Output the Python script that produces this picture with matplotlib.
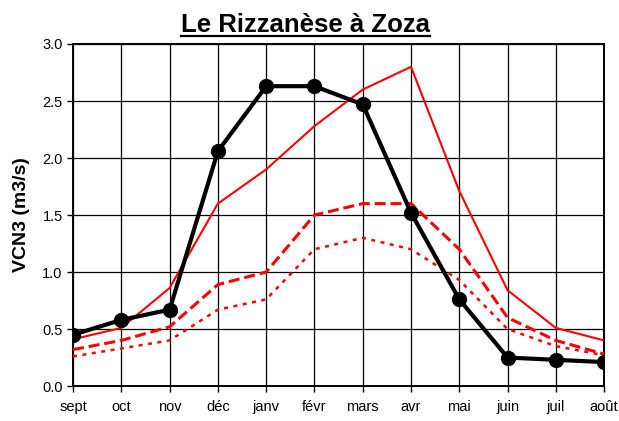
import matplotlib
matplotlib.use('Agg')
matplotlib.rc('font', family='Liberation Sans')
from matplotlib import pyplot as plt
from matplotlib.lines import Line2D

months = ['sept', 'oct', 'nov', 'déc', 'janv', 'févr', 'mars', 'avr', 'mai', 'juin', 'juil', 'août']
vcn3_obs = [0.45, 0.58, 0.67, 2.06, 2.63, 2.63, 2.47, 1.52, 0.76, 0.25, 0.23, 0.21]
vcn3_high = [0.41, 0.51, 0.86, 1.60, 1.90, 2.28, 2.60, 2.80, 1.71, 0.84, 0.51, 0.40]
vcn3_mid = [0.32, 0.40, 0.52, 0.89, 1.00, 1.50, 1.60, 1.60, 1.20, 0.60, 0.40, 0.28]
vcn3_low = [0.26, 0.33, 0.40, 0.67, 0.76, 1.20, 1.30, 1.20, 0.93, 0.50, 0.35, 0.27]
y_ticks = [0.0, 0.5, 1.0, 1.5, 2.0, 2.5, 3.0]

title = 'Le Rizzanèse à Zoza'
ylabel = 'VCN3 (m3/s)'

fig = plt.figure(figsize=(6.19, 4.21), dpi=100)
ax = fig.add_axes([0.118, 0.083, 0.858, 0.8125])

x = list(range(len(months)))
ax.plot(x, vcn3_high, color='red', linewidth=1.5, zorder=3)
ax.plot(x, vcn3_mid, color='red', linewidth=2.2, linestyle=(0, (3.6, 1.6)), zorder=3)
ax.plot(x, vcn3_low, color='red', linewidth=1.8, linestyle=(0, (1.6, 2.2)), zorder=3)
ax.plot(x, vcn3_obs, color='black', linewidth=3, marker='o', markersize=10, zorder=4)

ax.set_xlim(0, len(months) - 1)
ax.set_ylim(0, 3.0)
ax.set_xticks(x)
ax.set_xticklabels(months)
ax.set_yticks(y_ticks)
ax.set_yticklabels(['%.1f' % v for v in y_ticks])
ax.tick_params(direction='out', length=4, width=1, labelsize=10.5, colors='black')
ax.tick_params(axis='x', pad=6)
ax.grid(True, color='black', linewidth=0.9)
ax.set_axisbelow(True)
for s in ax.spines.values():
    s.set_linewidth(1.4)

ax.set_ylabel(ylabel, fontsize=14, fontweight='bold', labelpad=9)

t = fig.text(0.4935, 0.94, title, ha='center', va='center', fontsize=18.5, fontweight='bold')

# underline the title
fig.canvas.draw()
bb = t.get_window_extent().transformed(fig.transFigure.inverted())
fig.add_artist(Line2D([bb.x0, bb.x1], [bb.y0 + 0.004, bb.y0 + 0.004],
                      transform=fig.transFigure, color='black', linewidth=1.6))

fig.savefig('out.png', dpi=100)
